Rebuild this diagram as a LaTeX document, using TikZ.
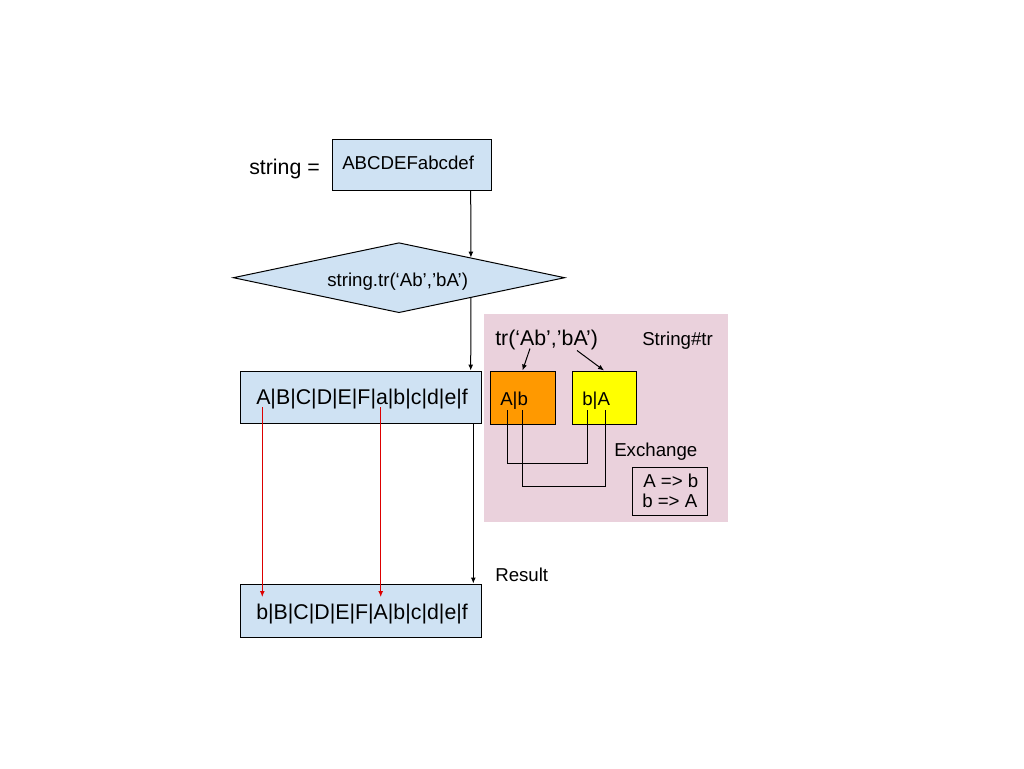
\documentclass[tikz,border=0pt]{standalone}
\usepackage{fontspec}
\setmainfont{Liberation Sans}
\usetikzlibrary{shapes.geometric,arrows.meta,fit,calc}
\definecolor{boxblue}{HTML}{CFE2F3}
\definecolor{pinkbg}{HTML}{EAD1DC}
\definecolor{orng}{HTML}{FF9900}
\definecolor{yllw}{HTML}{FFFF00}
\definecolor{redarr}{HTML}{DD0000}
\begin{document}
\begin{tikzpicture}[x=0.75pt,y=-0.75pt,
  box/.style={draw=black,line width=0.75pt,inner sep=0pt},
  txt/.style={inner sep=0pt,anchor=base west,text=black},
  big/.style={font=\fontsize{16}{19}\selectfont},
  mid/.style={font=\fontsize{14}{17}\selectfont},
  arr/.style={draw=black,line width=0.75pt,-{Latex[length=4.5pt,width=3.75pt]}},
  redar/.style={draw=redarr,line width=0.75pt,-{Latex[length=4.5pt,width=3.75pt]}},
  link/.style={draw=black,line width=0.75pt}]
\useasboundingbox[fill=white] (0,0) rectangle (1024,768);

% background panel
\node[fill=pinkbg,inner sep=0pt,fit={(484,314)(728,522)}] (bg) {};

% boxes
\node[box,fill=boxblue,fit={(332,139)(491,190)}] (b1) {};
\node[box,fill=boxblue,fit={(240,371)(481,423)}] (b2) {};
\node[box,fill=boxblue,fit={(240,584)(481,637)}] (b3) {};
\node[box,fill=orng,fit={(490,371)(555,424)}] (ob) {};
\node[box,fill=yllw,fit={(572,371)(636,424)}] (yb) {};
\node[box,fit={(632,467)(707,515)}] (sb) {};
\node[draw=black,fill=boxblue,line width=0.75pt,shape=diamond,inner sep=0pt,
      minimum width=248.7pt,minimum height=52.5pt] (dia) at (399,277.7) {};

% texts
\node[txt,big] (t0) at (249,174) {string =};
\node[txt,mid] (t1) at (342,169) {ABCDEFabcdef};
\node[txt,mid] (t2) at (327,286) {string.tr(‘Ab’,’bA’)};
\node[txt,big] (t3) at (256,404.5) {A|B|C|D|E|F|a|b|c|d|e|f};
\node[txt,big] (t4) at (256,619) {b|B|C|D|E|F|A|b|c|d|e|f};
\node[txt,mid] (t5) at (495,581) {Result};
\node[txt,big] (t6) at (495,345) {tr(‘Ab’,’bA’)};
\node[txt,mid] (t7) at (642,345) {String\#tr};
\node[txt,mid] (t8) at (500,405) {A|b};
\node[txt,mid] (t9) at (582,405) {b|A};
\node[txt,mid] (t10) at (614,456) {Exchange};
\node[txt,mid] (t11) at (643,487) {A => b};
\node[txt,mid] (t12) at (642,507) {b => A};

% main flow connectors
\coordinate (c1) at (470.7,0);
\coordinate (c2) at (473.3,0);
\coordinate (din) at ($(dia.north)!0.4324!(dia.east)$);
\coordinate (dout) at ($(dia.south)!0.4324!(dia.east)$);
\draw[arr] (b1.south -| c1) -- (din);
\draw[arr] (dout) -- (b2.north -| c1);
\draw[arr] (b2.south -| c2) -- (b3.north -| c2);

% red mapping arrows
\coordinate (r1s) at (262.3,407);
\coordinate (r1e) at (262.3,597);
\coordinate (r2s) at (380.7,407);
\coordinate (r2e) at (380.7,597);
\draw[redar] (r1s) -- (r1e);
\draw[redar] (r2s) -- (r2e);

% tr arrows
\coordinate (q1) at (530,348.5);
\coordinate (q2) at (577,350.5);
\draw[arr] (q1) -- (ob.north);
\draw[arr] (q2) -- (yb.north);

% exchange lines
\coordinate (e1a) at (507.3,410);
\coordinate (e1b) at (507.3,463.3);
\coordinate (e1c) at (587.3,463.3);
\coordinate (e1d) at (587.3,410);
\coordinate (e2a) at (522.7,410);
\coordinate (e2b) at (522.7,486);
\coordinate (e2c) at (605,486);
\coordinate (e2d) at (605,410);
\draw[link] (e1a) -- (e1b) -- (e1c) -- (e1d);
\draw[link] (e2a) -- (e2b) -- (e2c) -- (e2d);
\end{tikzpicture}
\end{document}
